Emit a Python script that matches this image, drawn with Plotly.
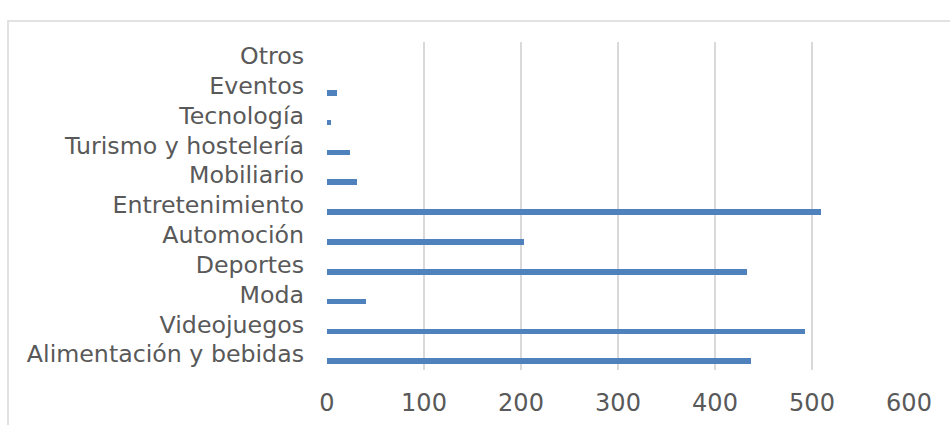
import plotly.graph_objects as go

# Sectors, listed bottom to top as they appear on the axis
categories = [
    "Alimentación y bebidas",
    "Videojuegos",
    "Moda",
    "Deportes",
    "Automoción",
    "Entretenimiento",
    "Mobiliario",
    "Turismo y hostelería",
    "Tecnología",
    "Eventos",
    "Otros",
]
values = [437, 493, 40, 433, 203, 509, 31, 24, 4, 10, 0]
x_ticks = [0, 100, 200, 300, 400, 500, 600]

TEXT = "#595959"
GRID = "#D9D9D9"
BAR = "#4F81BD"
FONT = "DejaVu Sans"

fig = go.Figure(
    go.Bar(
        x=values,
        y=categories,
        orientation="h",
        marker=dict(color=BAR, line=dict(width=0)),
        width=0.19,
        offset=-0.3,
        hoverinfo="x+y",
    )
)

W, H = 950, 425
ml, mr, mt, mb = 327, 41, 42, 55
pw = W - ml - mr
ph = H - mt - mb


def px_x(p):
    return (p - ml) / pw


def px_y(p):
    return (H - mb - p) / ph


fig.update_layout(
    width=W,
    height=H,
    margin=dict(l=ml, r=mr, t=mt, b=mb, pad=0, autoexpand=False),
    paper_bgcolor="white",
    plot_bgcolor="white",
    showlegend=False,
    bargap=0,
    font=dict(family=FONT, size=23, color=TEXT),
    xaxis=dict(
        range=[0, 600],
        tickvals=x_ticks,
        ticktext=[str(t) for t in x_ticks],
        showgrid=True,
        gridcolor=GRID,
        gridwidth=1.5,
        zeroline=False,
        showline=False,
        ticks="",
        ticklabelstandoff=16,
        tickfont=dict(family=FONT, size=24, color=TEXT),
        automargin=False,
        fixedrange=True,
    ),
    yaxis=dict(
        type="category",
        categoryorder="array",
        categoryarray=categories,
        range=[-0.5, len(categories) - 0.5],
        showgrid=False,
        zeroline=False,
        showline=False,
        ticks="",
        ticklabelstandoff=22,
        ticklabelshift=-1,
        tickfont=dict(family=FONT, size=23.7, color=TEXT),
        automargin=False,
        fixedrange=True,
    ),
    shapes=[
        # chart frame
        dict(
            type="rect",
            xref="paper",
            yref="paper",
            x0=px_x(8),
            x1=px_x(960),
            y0=px_y(440),
            y1=px_y(21),
            line=dict(color=GRID, width=1.5),
            fillcolor="rgba(0,0,0,0)",
            layer="below",
        ),
    ],
)

fig.write_html("out.html")
